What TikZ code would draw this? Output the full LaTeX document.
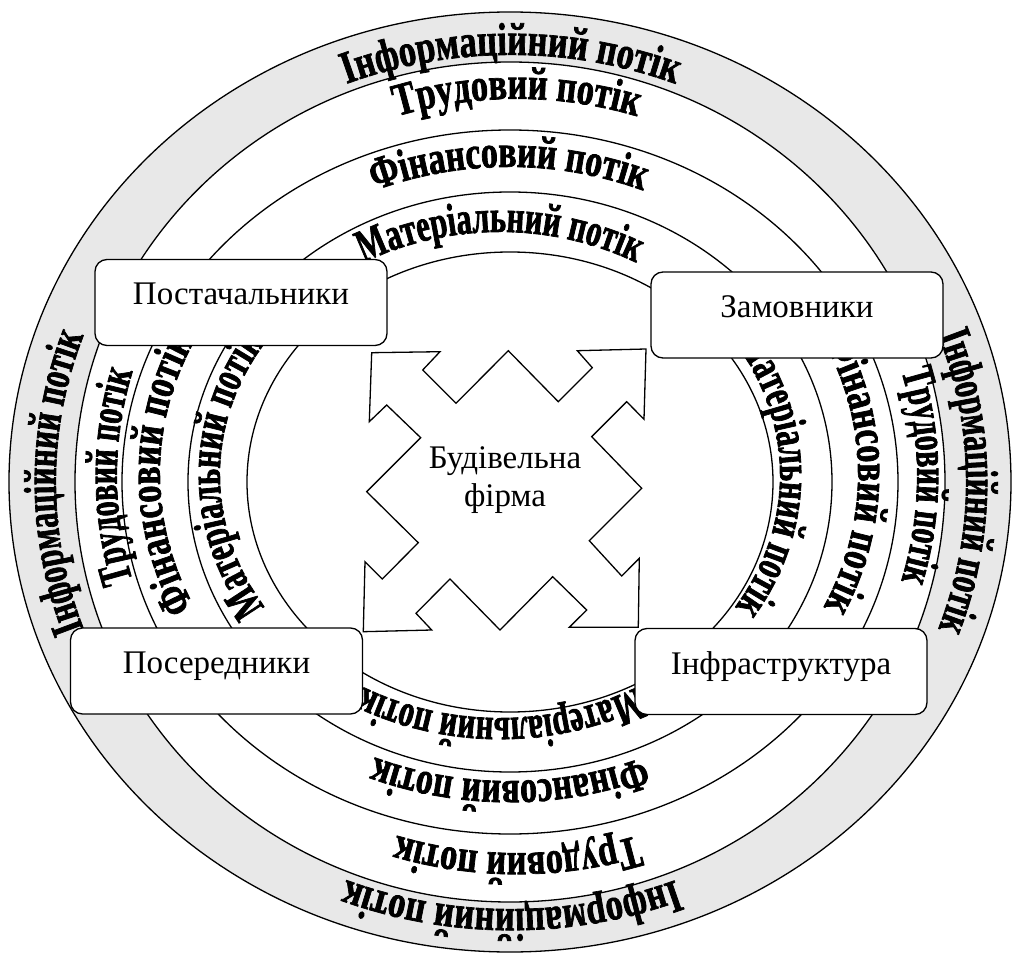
\documentclass[tikz,border=0pt]{standalone}
\usepackage{fontspec}
\setmainfont{Liberation Serif}
\newfontfamily\flowfont{Liberation Serif}[FakeBold=1.5]
\newcommand\flowstyle[1]{\flowfont\bfseries\addfontfeature{FakeStretch=#1}\fontsize{46pt}{46pt}\selectfont}
\usetikzlibrary{decorations.text}
\definecolor{bandgray}{RGB}{232,232,232}

\begin{document}
\begin{tikzpicture}[x=1pt, y=1pt, line width=1.3pt,
    ring/.style={draw, fill=white},
    box/.style={draw, fill=white, rounded corners=12pt, minimum width=292pt, minimum height=86pt,
      text height=23pt, text depth=18pt, font=\fontsize{33pt}{38pt}\selectfont}]
\useasboundingbox (-510,-474) rectangle (507,482);
% rings
\draw[fill=bandgray] (0,0) ellipse [x radius=501, y radius=470];
\foreach \rx/\ry in {435/420, 388/352, 322/290, 263/230}
  \draw[ring] (0,0) ellipse [x radius=\rx, y radius=\ry];
% flow labels, clockwise round each ring (shift, radii, stretch top/bottom, stretch sides)
\foreach \txt/\dx/\dy/\rx/\ry/\sv/\sh in {Інформаційний потік/1/0/455/427/0.75/0.67,
    Трудовий потік/7/6/400/377/0.745/0.65, Фінансовий потік/-1/8/349/307/0.735/0.745,
    Матеріальний потік/-10/7/280/243/0.665/0.67}
  \foreach \c/\s in {90/\sv, 0/\sh, -90/\sv, 180/\sh}
    \path[shift={(\dx,\dy)}, decorate, decoration={text along path, text align=center,
        text/.expanded={|\noexpand\flowstyle{\s}|\txt}}]
      ({\c+70}:{\rx} and {\ry}) arc[start angle=\c+70, end angle=\c-70, x radius=\rx, y radius=\ry];
% partners
\node[box] (supp) at (-269,179.5) {Постачальники};
\node[box] (cust) at (287,167) {Замовники};
\node[box] (inter) at (-293.5,-189) {Посередники};
\node[box] (infra) at (271,-189.5) {Інфраструктура};
% firm
\draw[fill=white] (-138.3,129.3) -- (-70,130.3) -- (-87.3,112) -- (-54,78.7) -- (-1.7,131.3)
  -- (48.3,80.3) -- (82.3,114.3) -- (67.3,131.3) -- (136,133) -- (134,62.7) -- (116.7,80.3)
  -- (81.7,45.3) -- (131.7,-6.3) -- (79.3,-58.7) -- (111.7,-94) -- (129.3,-76.3)
  -- (128.3,-145.3) -- (59.3,-145.3) -- (76.7,-128) -- (42.7,-94.7) -- (-10,-148)
  -- (-60,-97) -- (-94,-131.3) -- (-78.3,-148) -- (-146.7,-149.7) -- (-145,-79.7)
  -- (-127.7,-97) -- (-91.7,-60.7) -- (-143.3,-9.7) -- (-89.3,44.3) -- (-123.3,77)
  -- (-140.7,60.3) -- cycle;
\node[align=center, font=\fontsize{33pt}{38pt}\selectfont] (firm) at (-5,2) {Будівельна\\фірма};
\end{tikzpicture}
\end{document}
